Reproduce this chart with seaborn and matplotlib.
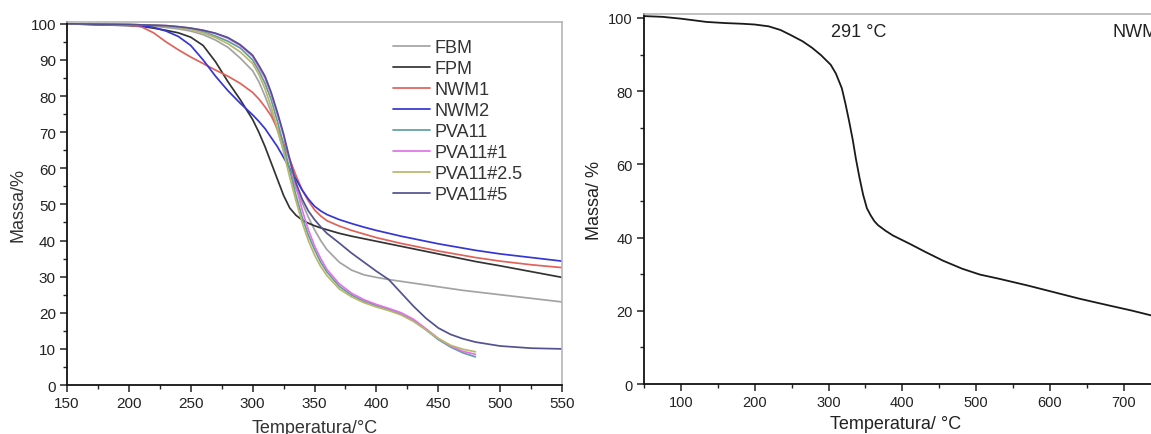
import numpy as np
import pandas as pd
import matplotlib
matplotlib.use("Agg")
import matplotlib.pyplot as plt
from matplotlib.ticker import MultipleLocator
import seaborn as sns

# ------------------------------------------------------------
# DATA
# ------------------------------------------------------------

# left panel: TGA curves of the membranes, temperature in °C
temp = [150, 200, 210, 220, 230, 240, 250, 260, 270, 280, 290, 300, 305, 310,
        315, 320, 325, 330, 335, 340, 345, 350, 355, 360, 370, 380, 390, 400,
        410, 420, 430, 440, 450, 460, 470, 480, 500, 525, 550]
temp_pva = temp[:36]  # the PVA11 series stop at 480 °C

fbm = [100, 99.7, 99.5, 99.3, 99.0, 98.6, 98.0, 97.0, 95.5, 93.5, 90.5, 87.0,
       84.0, 80.0, 75.5, 70.5, 65.0, 59.5, 54.5, 50.5, 46.5, 43.0, 40.0, 37.5,
       34.0, 31.8, 30.5, 29.8, 29.2, 28.7, 28.2, 27.7, 27.2, 26.7, 26.2, 25.8,
       25.0, 24.0, 23.0]
fpm = [100, 99.5, 99.3, 98.8, 98.2, 97.5, 96.3, 94.0, 89.5, 84.0, 79.0, 73.5,
       70.0, 66.0, 61.5, 57.0, 52.5, 49.0, 47.0, 45.7, 44.8, 44.1, 43.5, 43.0,
       42.0, 41.2, 40.5, 39.8, 39.1, 38.4, 37.7, 37.0, 36.3, 35.6, 34.9, 34.2,
       33.0, 31.4, 29.8]
nwm1 = [100, 99.6, 99.2, 97.5, 95.0, 92.8, 90.8, 89.0, 87.2, 85.5, 83.5, 81.0,
        79.2, 77.0, 74.5, 71.0, 67.0, 62.5, 58.0, 54.0, 51.0, 48.5, 46.8, 45.5,
        44.0, 42.8, 41.8, 40.8, 40.0, 39.2, 38.5, 37.8, 37.1, 36.5, 35.9, 35.3,
        34.3, 33.3, 32.5]
nwm2 = [100, 99.7, 99.5, 99.0, 98.0, 96.5, 94.0, 90.0, 85.5, 81.5, 78.0, 74.8,
        73.0, 71.0, 68.5, 66.0, 63.0, 60.0, 57.0, 54.0, 51.5, 49.5, 48.2, 47.2,
        45.8, 44.7, 43.7, 42.8, 42.0, 41.2, 40.5, 39.8, 39.1, 38.5, 37.9, 37.3,
        36.3, 35.3, 34.3]
pva11 = [100, 99.8, 99.7, 99.6, 99.4, 99.1, 98.6, 97.8, 96.6, 95.2, 93.3, 90.0,
         87.0, 83.5, 79.0, 73.0, 66.5, 59.5, 52.5, 46.5, 41.5, 37.5, 34.0, 31.3,
         27.3, 24.9, 23.2, 22.0, 20.9, 19.6, 17.8, 15.3, 12.6, 10.5, 8.9, 7.8]
pva11_1 = [100, 99.8, 99.7, 99.6, 99.5, 99.2, 98.8, 98.2, 97.3, 96.0, 94.0, 91.0,
           88.0, 85.0, 80.5, 75.0, 69.0, 62.0, 55.0, 48.5, 43.0, 38.5, 35.0, 32.0,
           28.0, 25.4, 23.6, 22.3, 21.2, 20.0, 18.2, 15.6, 12.9, 10.8, 9.3, 8.5]
pva11_25 = [100, 99.8, 99.7, 99.6, 99.4, 99.0, 98.4, 97.5, 96.2, 94.5, 92.2, 89.0,
            86.0, 82.0, 77.0, 71.0, 64.5, 57.5, 51.0, 45.0, 40.0, 36.0, 32.8, 30.3,
            26.6, 24.4, 22.8, 21.6, 20.6, 19.4, 17.6, 15.3, 12.9, 11.0, 9.9, 9.2]
pva11_5 = [100, 99.8, 99.7, 99.6, 99.5, 99.2, 98.8, 98.2, 97.4, 96.2, 94.2, 91.3,
           88.5, 85.5, 81.0, 75.5, 69.5, 62.5, 56.0, 51.5, 48.2, 45.8, 43.8, 42.0,
           39.3, 36.5, 34.0, 31.5, 29.2, 25.5, 21.8, 18.5, 15.8, 14.0, 12.8, 11.9,
           10.8, 10.2, 10.0]

names = ["FBM", "FPM", "NWM1", "NWM2", "PVA11", "PVA11#1", "PVA11#2.5", "PVA11#5"]
series = [fbm, fpm, nwm1, nwm2, pva11, pva11_1, pva11_25, pva11_5]
colors = ["#a3a3a3", "#333333", "#e0625a", "#3636d2", "#5f9f9f", "#e271ea",
          "#b8b86c", "#525290"]

# right panel: single NWM curve, 50-740 °C
temp_r = [50, 75, 100, 135, 160, 184, 200, 219, 235, 248, 265, 278, 290, 303,
          310, 318, 323, 328, 333, 337, 342, 347, 352, 357, 362, 367, 377, 387,
          410, 431, 455, 481, 505, 530, 570, 605, 640, 679, 710, 740]
mass_r = [100.5, 100.3, 99.8, 98.9, 98.6, 98.4, 98.2, 97.7, 96.7, 95.4, 93.6, 91.8,
          89.8, 87.2, 84.8, 80.8, 76.5, 71.7, 66.5, 61.6, 56.3, 51.6, 48.0, 46.1,
          44.5, 43.4, 41.9, 40.6, 38.3, 36.1, 33.7, 31.5, 29.9, 28.8, 26.9, 25.1,
          23.3, 21.5, 20.1, 18.6]

# ------------------------------------------------------------
# STYLE
# ------------------------------------------------------------
sns.set_style("ticks")
plt.rcParams["font.family"] = ["Liberation Sans", "DejaVu Sans"]
plt.rcParams["xtick.direction"] = "out"
plt.rcParams["ytick.direction"] = "out"

fig = plt.figure(figsize=(11.51, 4.35), dpi=100)

# ------------------------------------------------------------
# LEFT PANEL
# ------------------------------------------------------------
ax1 = fig.add_axes([0.0582, 0.1126, 0.4301, 0.8345])
for name, vals, c in zip(names, series, colors):
    x = temp if len(vals) == len(temp) else temp_pva
    sns.lineplot(x=x, y=vals, ax=ax1, color=c, lw=1.25, label=name,
                 sort=False, estimator=None)

ax1.set_xlim(150, 550)
ax1.set_ylim(0, 100.5)
ax1.xaxis.set_major_locator(MultipleLocator(50))
ax1.xaxis.set_minor_locator(MultipleLocator(25))
ax1.yaxis.set_major_locator(MultipleLocator(10))
ax1.yaxis.set_minor_locator(MultipleLocator(5))
ax1.set_xlabel("Temperatura/°C", fontsize=13, color="#333333")
ax1.xaxis.set_label_coords(0.5, -0.093)
ax1.set_ylabel("Massa/%", fontsize=13, color="#333333", labelpad=3)

leg = ax1.legend(loc="upper left", bbox_to_anchor=(0.658, 0.952), frameon=False,
                 fontsize=13, handlelength=2.05, handletextpad=0.28,
                 labelspacing=0.22, borderpad=0, borderaxespad=0)
for t in leg.get_texts():
    t.set_color("#333333")

# ------------------------------------------------------------
# RIGHT PANEL (runs past the right edge of the figure)
# ------------------------------------------------------------
ax2 = fig.add_axes([0.5595, 0.1149, 0.481, 0.85])
sns.lineplot(x=temp_r, y=mass_r, ax=ax2, color="#1a1a1a", lw=1.3,
             sort=False, estimator=None)
ax2.set_xlim(50, 800)
ax2.set_ylim(0, 101)
ax2.xaxis.set_major_locator(MultipleLocator(100))
ax2.xaxis.set_minor_locator(MultipleLocator(50))
ax2.yaxis.set_major_locator(MultipleLocator(20))
ax2.yaxis.set_minor_locator(MultipleLocator(10))
ax2.set_xticks([100, 200, 300, 400, 500, 600, 700])
ax2.set_xlabel("Temperatura/ °C", fontsize=13, color="#222222")
ax2.xaxis.set_label_coords(0.455, -0.085)
ax2.set_ylabel("Massa/ %", fontsize=13, color="#222222", labelpad=4)
ax2.text(303, 96.3, "291 °C", fontsize=13, va="center", color="#222222")
ax2.text(685, 96.3, "NWM1", fontsize=13, va="center", color="#222222")

for ax, size in ((ax1, 11), (ax2, 10.5)):
    ax.tick_params(which="major", length=5, width=1.1, labelsize=size,
                   colors="#222222", pad=3)
    ax.tick_params(which="minor", length=3, width=1.0, colors="#222222")
    for side in ("left", "bottom"):
        ax.spines[side].set_color("#111111")
        ax.spines[side].set_linewidth(1.3)
    for side in ("top", "right"):
        ax.spines[side].set_visible(True)
        ax.spines[side].set_color("#b5b5b5")
        ax.spines[side].set_linewidth(1.2)

fig.savefig("out.png", dpi=100)
